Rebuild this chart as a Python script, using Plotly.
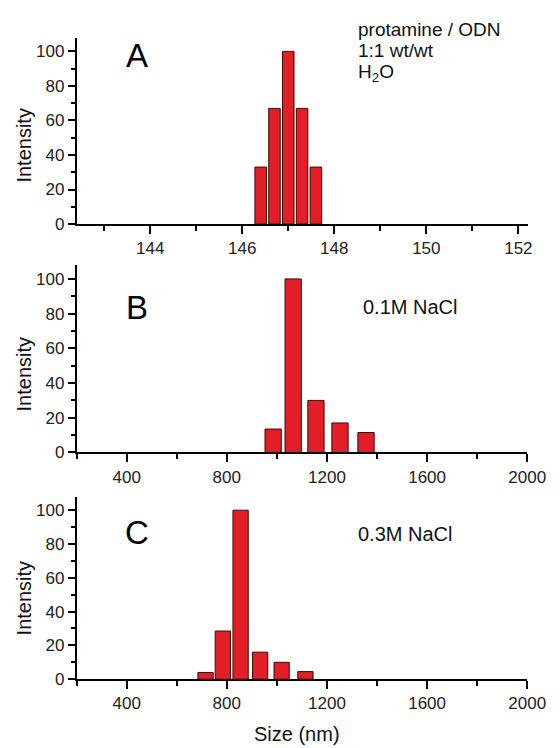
import plotly.graph_objects as go

# ---------------- data ----------------
size_a = [146.4, 146.7, 147.0, 147.3, 147.6]
int_a = [33, 67, 100, 67, 33]

size_b = [985, 1065, 1156, 1252, 1356]
int_b = [13.5, 100, 30, 17, 11.5]

size_c = [715, 784, 855, 933, 1019, 1114]
int_c = [4, 28.5, 100, 16, 10, 4.5]

xticks_a = [144, 146, 148, 150, 152]
xticks_bc = [400, 800, 1200, 1600, 2000]
yticks = [0, 20, 40, 60, 80, 100]

panel_letters = ["A", "B", "C"]
label_a = ["protamine / ODN", "1:1 wt/wt", "H<sub>2</sub>O"]
label_b = "0.1M NaCl"
label_c = "0.3M NaCl"

# ---------------- style ----------------
W, H = 560, 748
FONT = "Liberation Sans, Arial, sans-serif"
BAR_FILL = "#E41E26"
BAR_LINE = "#3C0A0A"


def px(x):
    return x / W


def py(y):
    return 1 - y / H


fig = go.Figure()
fig.add_trace(go.Bar(x=size_a, y=int_a, width=0.25, xaxis="x", yaxis="y",
                     marker=dict(color=BAR_FILL, line=dict(color=BAR_LINE, width=1))))
fig.add_trace(go.Bar(x=size_b, y=int_b, width=65, xaxis="x2", yaxis="y2",
                     marker=dict(color=BAR_FILL, line=dict(color=BAR_LINE, width=1))))
fig.add_trace(go.Bar(x=size_c, y=int_c, width=61, xaxis="x3", yaxis="y3",
                     marker=dict(color=BAR_FILL, line=dict(color=BAR_LINE, width=1))))

axis_common = dict(showline=True, linecolor="black", linewidth=1.5, mirror=False,
                   showgrid=False, zeroline=False, ticks="outside", tickcolor="black",
                   tickwidth=1.5, tickfont=dict(family=FONT, size=17, color="#222"))

xa = dict(axis_common, ticklen=8,
          minor=dict(ticks="outside", ticklen=5, tickcolor="black", tickwidth=1.5))
ya = dict(axis_common, ticklen=7, range=[0, 108], tickvals=yticks,
          minor=dict(ticks="outside", ticklen=4, tickcolor="black", tickwidth=1.5, dtick=10))

left = px(71)
fig.update_layout(
    width=W, height=H, margin=dict(l=0, r=0, t=0, b=0),
    paper_bgcolor="white", plot_bgcolor="white", showlegend=False,
    xaxis=dict(xa, domain=[left, px(538.3)], range=[142.4, 152.21],
               tickvals=xticks_a, anchor="y", minor=dict(xa["minor"], dtick=1, tick0=143)),
    yaxis=dict(ya, domain=[py(219), py(30)], anchor="x"),
    xaxis2=dict(xa, domain=[left, px(537.5)], range=[200, 2000],
                tickvals=xticks_bc, anchor="y2", minor=dict(xa["minor"], dtick=200, tick0=200)),
    yaxis2=dict(ya, domain=[py(450.5), py(260.5)], anchor="x2"),
    xaxis3=dict(xa, domain=[left, px(537.5)], range=[200, 2000],
                tickvals=xticks_bc, anchor="y3", minor=dict(xa["minor"], dtick=200, tick0=200)),
    yaxis3=dict(ya, domain=[py(680.3), py(495.3)], anchor="x3"),
)

ann = []
# panel letters
for letter, yc in zip(panel_letters, [48.3, 303.3, 532]):
    ann.append(dict(text=letter, x=px(133.5), y=py(yc), xanchor="center", yanchor="middle",
                    font=dict(family=FONT, size=33, color="black")))
# panel A description
for line, yc in zip(label_a, [22, 43.3, 66]):
    ann.append(dict(text=line, x=px(360), y=py(yc), xanchor="left", yanchor="middle",
                    font=dict(family=FONT, size=19, color="#111")))
ann.append(dict(text=label_b, x=px(365), y=py(303.5), xanchor="left", yanchor="middle",
                font=dict(family=FONT, size=20, color="#111")))
ann.append(dict(text=label_c, x=px(360), y=py(533), xanchor="left", yanchor="middle",
                font=dict(family=FONT, size=20, color="#111")))
# y titles
for yc in [139, 371, 598]:
    ann.append(dict(text="Intensity", x=px(17), y=py(yc), xanchor="center", yanchor="middle",
                    textangle=-90, font=dict(family=FONT, size=20, color="#111")))
# x title
ann.append(dict(text="Size (nm)", x=px(299), y=py(736), xanchor="center", yanchor="middle",
                font=dict(family=FONT, size=20, color="#111")))

for a in ann:
    a.update(xref="paper", yref="paper", showarrow=False)
fig.update_layout(annotations=ann)

fig.write_html("out.html")
